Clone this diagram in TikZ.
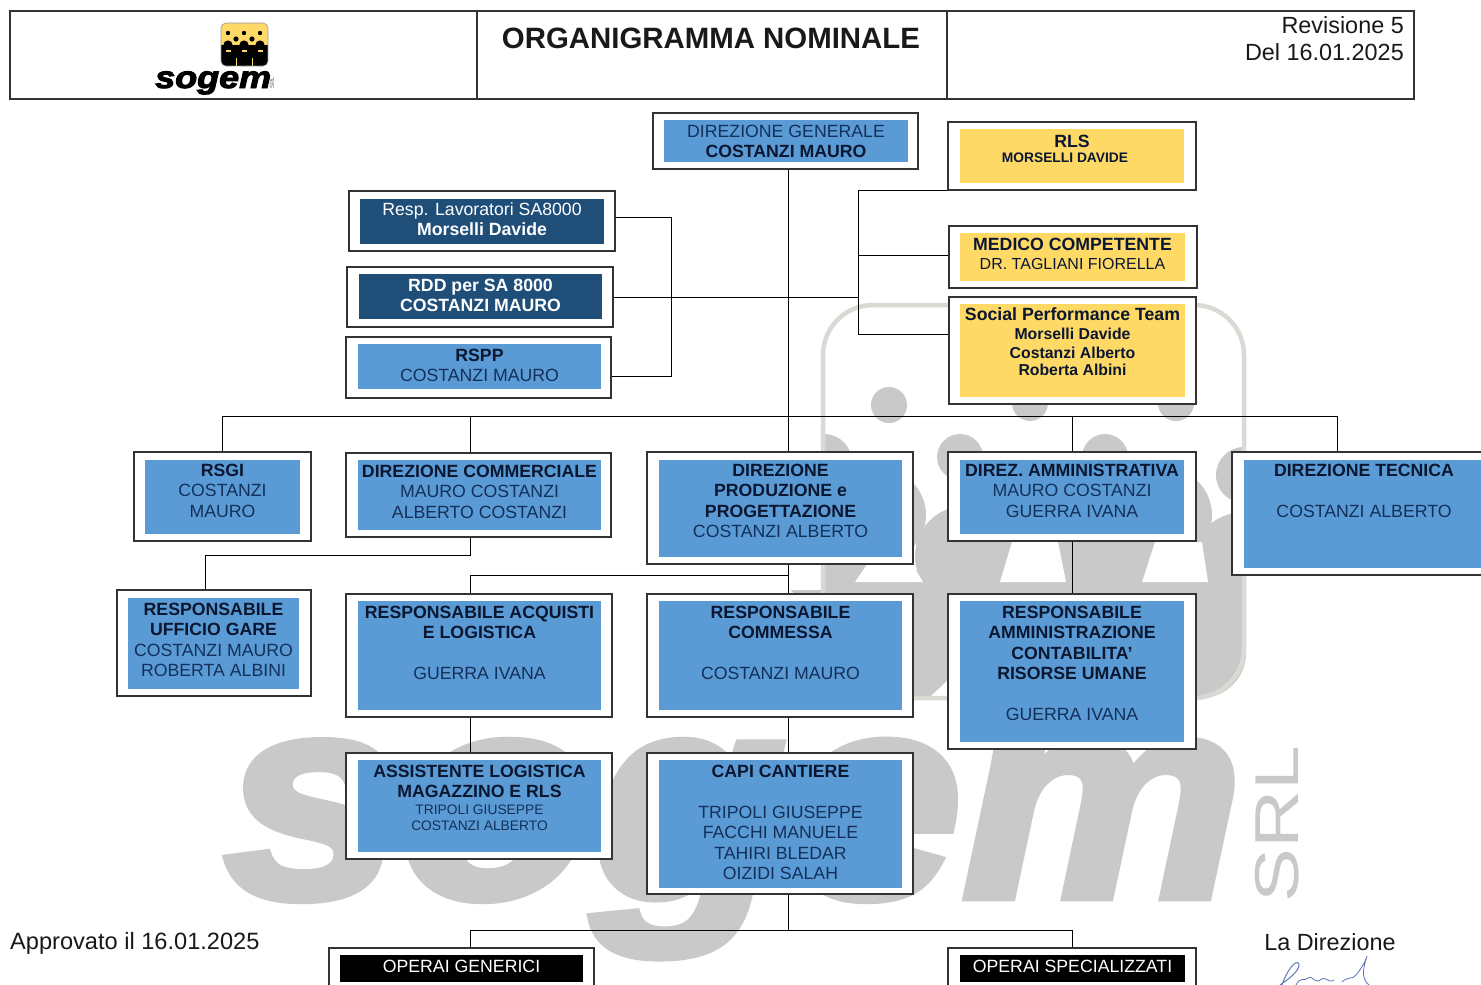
\documentclass[tikz,border=0pt]{standalone}
\usepackage{fontspec}
\setmainfont{Liberation Sans}
\newfontfamily\heavyfont{Liberation Sans}[BoldItalicFeatures={FakeBold=3}]
\usetikzlibrary{calc}
\definecolor{boxblue}{HTML}{5B9BD5}
\definecolor{boxyellow}{HTML}{FFD966}
\definecolor{boxnavy}{HTML}{1F4E79}
\definecolor{wmgray}{HTML}{C9C9C9}
\definecolor{wmlight}{HTML}{DADAD4}
\definecolor{txtdark}{HTML}{0B1730}
\definecolor{txtblue}{HTML}{13305A}
\definecolor{sigblue}{HTML}{5A78B8}
\newcommand{\hb}[1]{{\bfseries\color{txtdark}#1}}
\newcommand{\hw}[1]{{\bfseries\color{white}#1}}
\newcommand{\smalltxt}{\fontsize{13.8}{16}\selectfont}
% name, outer x1 y1 x2 y2, inner x1 y1 x2 y2, fill, first line centre y, text
\newcommand{\orgbox}[9]{%
  \pgfmathsetmacro{\ocx}{(#2+#4)/2}\pgfmathsetmacro{\ocy}{(#3+#5)/2}%
  \pgfmathsetmacro{\ow}{#4-#2}\pgfmathsetmacro{\oh}{#5-#3}%
  \node[outerbox,minimum width=\ow pt,minimum height=\oh pt] (#1) at (\ocx,\ocy) {};%
  \pgfmathsetmacro{\icx}{(#6+#8)/2}\pgfmathsetmacro{\icy}{(#7+#9)/2}%
  \pgfmathsetmacro{\iw}{#8-#6}\pgfmathsetmacro{\ih}{#9-#7}%
  \orgboxinner{#1}}
\newcommand{\orgboxinner}[4]{%
  \node[innerbox,fill=#2,minimum width=\iw pt,minimum height=\ih pt] (#1-in) at (\icx,\icy) {};%
  \pgfmathsetmacro{\ty}{#3-6.4}%
  \node[boxtext] (#1-t) at (\icx,\ty) {#4};}
\tikzset{
  outerbox/.style={draw=black!80,line width=1.1pt,fill=white,inner sep=0pt},
  innerbox/.style={inner sep=0pt,draw=none},
  boxtext/.style={anchor=north,inner sep=0pt,align=center,text=txtblue,font=\fontsize{17.7}{20.5}\selectfont},
  link/.style={draw=black,line width=.95pt},
  hdr/.style={draw=black!80,line width=1.1pt,inner sep=0pt},
  plain/.style={inner sep=0pt,text=black!90,font=\fontsize{23.4}{28}\selectfont}
}
\begin{document}
\begin{tikzpicture}[x=1pt,y=-1pt]
\clip (0,0) rectangle (1481,985);
\fill[white] (0,0) rectangle (1481,985);
% watermark: logo
\fill[wmgray] (889,405) circle[radius=18];
\fill[wmgray] (1030,403) circle[radius=18];
\fill[wmgray] (1176,403) circle[radius=18];
\fill[wmgray] (960,457) circle[radius=23];
\fill[wmgray] (1105,457) circle[radius=23];
\fill[wmgray] (824,462) circle[radius=28];
\fill[wmgray] (1244,475) circle[radius=28];
\fill[wmgray] (880,515) circle[radius=46];
\fill[wmgray] (1165,515) circle[radius=47];
\fill[wmgray] (965,556) circle[radius=50];
\fill[wmgray] (1105,556) circle[radius=50];
\fill[wmgray] (822,558) circle[radius=45];
\fill[wmgray] (1240,558) circle[radius=45];
\fill[wmgray,rounded corners=45pt] (822,570) rectangle (1246,698);
\fill[white] (1012,542) -- (1058,542) -- (1066,582) -- (1000,582) -- cycle;
\fill[white] (1155,542) -- (1202,542) -- (1208,582) -- (1142,582) -- cycle;
\fill[white] (870,560) -- (910,560) -- (923,582) -- (855,582) -- cycle;
\fill[white] (725,420) rectangle (821,590);
\fill[white] (1246,420) rectangle (1300,720);
\fill[white] (930,697) -- (948,697) -- (948,680) -- cycle;
\draw[wmlight,line width=4.5pt,rounded corners=50pt] (823,305) rectangle (1244,698);
% watermark: wordmark
\node[anchor=base west,inner sep=0pt,text=wmgray,xscale=1.09,font=\heavyfont\bfseries\itshape\fontsize{290}{290}\selectfont] (wmword) at (224,897) {sogem};
\node[anchor=base west,inner sep=0pt,text=wmgray,rotate=90,xscale=1.3,font=\fontsize{62}{62}\selectfont] (wmsrl) at (1298,903) {SRL};
% header
\node[hdr,minimum width=467pt,minimum height=88pt] (hdrA) at (243.5,55) {};
\node[hdr,minimum width=470pt,minimum height=88pt] (hdrB) at (712,55) {};
\node[hdr,minimum width=467pt,minimum height=88pt] (hdrC) at (1180.5,55) {};
\node[inner sep=0pt,text=black!90,font=\bfseries\fontsize{29.4}{32}\selectfont] (title) at (711,38) {ORGANIGRAMMA NOMINALE};
\node[plain,anchor=east] (rev) at (1404,25) {Revisione 5};
\node[plain,anchor=east] (del) at (1404,52) {Del 16.01.2025};
% small logo
\begin{scope}
\path[clip,rounded corners=5pt] (221,23) rectangle (268,66);
\fill[boxyellow] (221,23) rectangle (268,66);
\fill[black] (221,45) rectangle (268,66);
\foreach \lx in {228,244,260} {\fill[black] (\lx,33) circle[radius=2.2];
  \fill[black] (\lx,45) circle[radius=4.6]; \fill[black] (\lx,60) circle[radius=7];
  \fill[boxyellow] (\lx-2.5,49.5) rectangle +(5,2);}
\foreach \lx in {236,252} {\fill[black] (\lx,39) circle[radius=2.6];
  \fill[boxyellow] (\lx-.4,58) rectangle +(.8,8);}
\end{scope}
\draw[black!40,line width=.6pt,rounded corners=5pt] (221,23) rectangle (268,66);
\node[anchor=base west,inner sep=0pt,text=black,xscale=1.16,font=\heavyfont\bfseries\itshape\fontsize{31}{31}\selectfont] (logoword) at (155,88) {sogem};
\node[anchor=base west,inner sep=0pt,text=black!60,rotate=90,font=\fontsize{6}{6}\selectfont] (logosrl) at (274,89) {SRL};
% free-end points of the buses
\coordinate (spine) at (788,416);
\coordinate (rbus) at (858,296);
% boxes
\orgbox{dg}{653}{113}{918}{169}{664}{120}{908}{162}{boxblue}{131}{DIREZIONE GENERALE\\[-.5pt]\hb{COSTANZI MAURO}}
\orgbox{rls}{948}{122}{1196}{190}{960}{129}{1184}{183}{boxyellow}{141}{\hb{RLS}\\[-4.8pt]{\smalltxt\hb{MORSELLI DAVIDE}\hspace*{14pt}}}
\orgbox{medico}{949}{226}{1197}{288}{960}{233}{1185}{281}{boxyellow}{244}{\hb{MEDICO COMPETENTE}\\[-1.5pt]{\fontsize{16}{18}\selectfont\color{txtdark}DR. TAGLIANI FIORELLA}}
\orgbox{social}{949}{297}{1196}{404}{960}{304}{1185}{397}{boxyellow}{314}{\hb{Social Performance Team}\\[-1.5pt]{\fontsize{15.8}{18}\selectfont\hb{Morselli Davide}}\\[-2pt]{\fontsize{15.8}{18}\selectfont\hb{Costanzi Alberto}}\\[-3pt]{\fontsize{15.8}{18}\selectfont\hb{Roberta Albini}}}
\orgbox{resp}{349}{191}{615}{251}{360}{199}{604}{244}{boxnavy}{209}{{\color{white}Resp. Lavoratori SA8000}\\[-.5pt]\hw{Morselli Davide}}
\orgbox{rdd}{347}{267}{613}{327}{359}{274}{602}{319}{boxnavy}{285}{\hw{RDD per SA 8000}\\[-.5pt]\hw{COSTANZI MAURO}}
\orgbox{rspp}{346}{337}{611}{398}{358}{344}{601}{389}{boxblue}{355}{\hb{RSPP}\\COSTANZI MAURO}
\orgbox{rsgi}{134}{452}{311}{541}{145}{460}{300}{534}{boxblue}{470}{\hb{RSGI}\\COSTANZI\\MAURO}
\orgbox{dircomm}{346}{453}{611}{537}{358}{460}{601}{530}{boxblue}{471}{\hb{DIREZIONE COMMERCIALE}\\MAURO COSTANZI\\ALBERTO COSTANZI}
\orgbox{dirprod}{647}{452}{913}{564}{659}{460}{902}{557}{boxblue}{470}{\hb{DIREZIONE}\\\hb{PRODUZIONE e}\\\hb{PROGETTAZIONE}\\COSTANZI ALBERTO}
\orgbox{diramm}{948}{452}{1196}{541}{960}{460}{1184}{534}{boxblue}{470}{\hb{DIREZ. AMMINISTRATIVA}\\MAURO COSTANZI\\GUERRA IVANA}
\orgbox{dirtec}{1232}{452}{1500}{575}{1244}{460}{1484}{568}{boxblue}{470}{\hb{DIREZIONE TECNICA}\\~\\COSTANZI ALBERTO}
\orgbox{rug}{117}{590}{311}{696}{128}{598}{299}{689}{boxblue}{609}{\hb{RESPONSABILE}\\\hb{UFFICIO GARE}\\COSTANZI MAURO\\ROBERTA ALBINI}
\orgbox{ral}{346}{594}{612}{717}{358}{601}{601}{710}{boxblue}{612}{\hb{RESPONSABILE ACQUISTI}\\\hb{E LOGISTICA}\\~\\GUERRA IVANA}
\orgbox{rc}{647}{594}{913}{717}{659}{601}{902}{710}{boxblue}{612}{\hb{RESPONSABILE}\\\hb{COMMESSA}\\~\\COSTANZI MAURO}
\orgbox{racr}{948}{594}{1196}{749}{960}{601}{1184}{742}{boxblue}{612}{\hb{RESPONSABILE}\\\hb{AMMINISTRAZIONE}\\\hb{CONTABILITA'}\\\hb{RISORSE UMANE}\\~\\GUERRA IVANA}
\orgbox{al}{346}{753}{612}{859}{358}{760}{601}{852}{boxblue}{771}{\hb{ASSISTENTE LOGISTICA}\\\hb{MAGAZZINO E RLS}\\[-3.8pt]{\smalltxt TRIPOLI GIUSEPPE}\\[-4.5pt]{\smalltxt COSTANZI ALBERTO}}
\orgbox{cc}{647}{753}{913}{894}{659}{760}{902}{888}{boxblue}{771}{\hb{CAPI CANTIERE}\\~\\TRIPOLI GIUSEPPE\\FACCHI MANUELE\\TAHIRI BLEDAR\\OIZIDI SALAH}
\orgbox{og}{329}{948}{594}{1000}{340}{955}{583}{982}{black}{966}{{\color{white}OPERAI GENERICI}}
\orgbox{os}{948}{948}{1196}{1000}{960}{955}{1185}{982}{black}{966}{{\color{white}OPERAI SPECIALIZZATI}}
% connectors
\draw[link] (dg.south -| spine) -- (dirprod.north -| spine);
\coordinate (techdrop) at (1337,416);
\draw[link] (rsgi.north) -- (rsgi.north |- spine) -- (techdrop) -- (techdrop |- dirtec.north);
\coordinate (commdrop) at (470,416);
\draw[link] (commdrop) -- (commdrop |- dircomm.north);
\coordinate (ammdrop) at (1072,416);
\draw[link] (ammdrop) -- (ammdrop |- diramm.north);
\draw[link] (rdd.east) -- (rdd.east -| rbus);
\coordinate (rbtop) at (858,190);
\coordinate (rbmid) at (858,255);
\coordinate (rbbot) at (858,334);
\draw[link] (rls.west |- rbtop) -- (rbtop) -- (rbbot) -- (rbbot -| social.west);
\draw[link] (rbmid) -- (rbmid -| medico.west);
\coordinate (lbtop) at (671,217);
\coordinate (lbbot) at (671,376);
\draw[link] (lbtop -| resp.east) -- (lbtop) -- (lbbot) -- (lbbot -| rspp.east);
\coordinate (cb1) at (470,555);
\coordinate (cb2) at (205,555);
\draw[link] (cb1 |- dircomm.south) -- (cb1) -- (cb2) -- (cb2 |- rug.north);
\coordinate (pb) at (788,575);
\draw[link] (dirprod.south -| pb) -- (rc.north -| pb);
\coordinate (ab) at (470,575);
\draw[link] (pb) -- (ab) -- (ab |- ral.north);
\draw[link] (ammdrop |- diramm.south) -- (ammdrop |- racr.north);
\draw[link] (ab |- ral.south) -- (ab |- al.north);
\draw[link] (pb |- rc.south) -- (pb |- cc.north);
\coordinate (ob) at (788,930);
\coordinate (ob1) at (470,930);
\coordinate (ob2) at (1072,930);
\draw[link] (ob |- cc.south) -- (ob);
\draw[link] (ob1 |- og.north) -- (ob1) -- (ob2) -- (ob2 |- os.north);
% footer
\node[plain,anchor=west,font=\fontsize{23.6}{28}\selectfont] (appr) at (10,943) {Approvato il 16.01.2025};
\node[plain,anchor=center] (ladir) at (1330,942) {La Direzione};
% signature
\draw[sigblue,line width=1pt,line cap=round] (1282,985) .. controls (1286,972) and (1296,958) .. (1299,964) .. controls (1300,972) and (1284,982) .. (1280,985);
\draw[sigblue,line width=.8pt,line cap=round] (1296,985) .. controls (1300,976) and (1304,982) .. (1308,978) .. controls (1312,974) and (1314,984) .. (1320,980) .. controls (1326,975) and (1328,984) .. (1334,980);
\draw[sigblue,line width=.8pt,line cap=round] (1342,982) .. controls (1348,976) and (1352,980) .. (1356,975) .. controls (1362,968) and (1366,960) .. (1367,956) .. controls (1364,966) and (1360,978) .. (1369,985);
\end{tikzpicture}
\end{document}
